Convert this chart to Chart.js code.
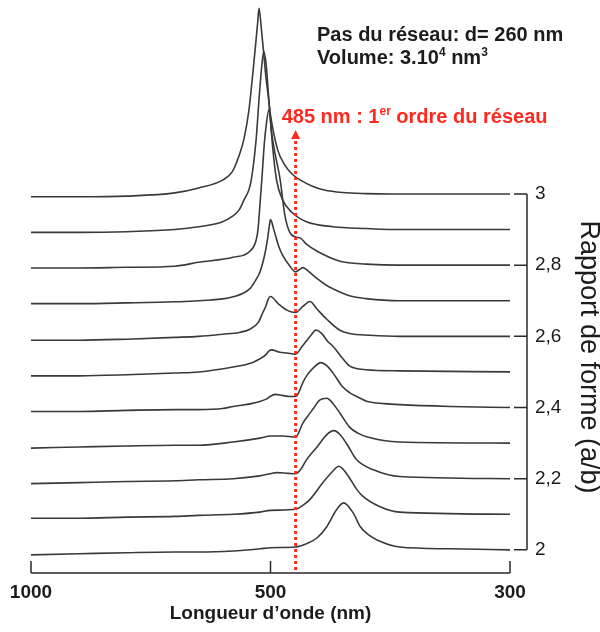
<!DOCTYPE html>
<html>
<head>
<meta charset="utf-8">
<script src="https://cdn.jsdelivr.net/npm/chart.js@4.4.0/dist/chart.umd.min.js"></script>
<style>
  html, body { margin: 0; padding: 0; background: #fff; }
  canvas { display: block; }
</style>
</head>
<body>
<canvas id="spectraChart" width="600" height="632"></canvas>
<script>
// aspect ratios (a/b), one spectrum each, stacked on the right axis
const ratios = [2.0, 2.1, 2.2, 2.3, 2.4, 2.5, 2.6, 2.7, 2.8, 2.9, 3.0];

// x axis is drawn in three tick sections: 1000 -> 500 -> 300 nm
const xTickNm = [1000, 500, 300];
const xTickLabels = ["1000", "500", "300"];
const yTickValues = [2, 2.2, 2.4, 2.6, 2.8, 3];

// dotted marker, where it sits on the figure
const orderNm = 479;
const orderLabel = "485 nm : 1";

// [wavelength nm, extinction above the curve's own ratio]
const s20 = [[1000,-0.014],[900,-0.011],[800,-0.008],[700,-0.006],[650,-0.006],[578,-0.003],[522,0.003],[500,0.006],[479,0.008],[470,0.017],[461,0.034],[453,0.065],[445,0.112],[439,0.132],[431,0.104],[425,0.065],[418,0.042],[411,0.028],[392,0.008],[350,0.003],[300,0]];
const s21 = [[1000,-0.011],[900,-0.011],[800,-0.008],[700,-0.006],[650,-0.003],[578,0],[522,0.006],[500,0.011],[479,0.014],[473,0.025],[467,0.042],[456,0.09],[448,0.121],[443,0.135],[436,0.112],[428,0.07],[423,0.051],[409,0.022],[392,0.006],[300,0]];
const s22 = [[1000,-0.014],[900,-0.011],[800,-0.008],[700,-0.006],[650,-0.003],[578,0],[522,0.008],[500,0.014],[495,0.017],[485,0.015],[479,0.014],[474,0.03],[470,0.053],[461,0.09],[453,0.124],[447,0.135],[442,0.124],[436,0.096],[428,0.053],[414,0.025],[392,0.006],[300,0]];
const s23 = [[1000,-0.014],[900,-0.011],[800,-0.008],[700,-0.006],[650,-0.006],[578,0.003],[522,0.014],[500,0.02],[490,0.02],[479,0.017],[473,0.056],[468,0.08],[464,0.098],[459,0.121],[453,0.126],[448,0.112],[442,0.084],[434,0.045],[427,0.028],[419,0.017],[392,0.003],[300,0]];
const s24 = [[1000,-0.011],[900,-0.011],[800,-0.008],[700,-0.006],[650,-0.006],[600,-0.003],[578,0.003],[540,0.011],[522,0.017],[507,0.025],[501,0.031],[496,0.037],[490,0.034],[484,0.031],[479,0.031],[476,0.045],[473,0.07],[469,0.093],[464,0.112],[458,0.126],[453,0.118],[448,0.098],[440,0.059],[434,0.042],[428,0.031],[419,0.017],[405,0.011],[392,0.008],[350,0.003],[300,0]];
const s25 = [[1000,-0.011],[900,-0.011],[800,-0.008],[700,-0.003],[650,0],[578,0.014],[540,0.025],[522,0.037],[510,0.048],[503,0.059],[499,0.062],[493,0.056],[486,0.053],[479,0.05],[474,0.07],[470,0.087],[466,0.104],[462,0.118],[457,0.107],[452,0.085],[448,0.073],[440,0.039],[434,0.017],[420,0.006],[392,0.003],[300,0]];
const s26 = [[1000,-0.011],[900,-0.011],[800,-0.008],[700,-0.003],[650,0],[600,0.006],[565,0.011],[543,0.02],[525,0.04],[516,0.067],[510,0.084],[505,0.104],[500,0.112],[493,0.09],[486,0.073],[479,0.067],[473,0.084],[467,0.098],[461,0.076],[453,0.048],[442,0.017],[434,0.008],[417,0.003],[392,0],[300,0]];
const s27 = [[1000,-0.008],[900,-0.008],[800,-0.006],[700,-0.003],[650,0],[578,0.011],[543,0.034],[530,0.06],[522,0.081],[512,0.13],[507,0.166],[503,0.205],[500,0.228],[497,0.197],[493,0.152],[490,0.129],[484,0.098],[479,0.081],[476,0.087],[473,0.093],[468,0.082],[461,0.062],[454,0.045],[448,0.034],[434,0.014],[420,0.006],[392,0],[300,0]];
const s28 = [[1000,-0.008],[900,-0.008],[800,-0.006],[700,-0.003],[650,0.008],[578,0.022],[543,0.039],[530,0.07],[526,0.101],[522,0.17],[518,0.242],[513,0.34],[509,0.393],[503,0.438],[499,0.37],[496,0.31],[492,0.242],[488,0.14],[484,0.093],[479,0.079],[475,0.076],[470,0.059],[461,0.039],[442,0.011],[420,0.003],[392,0],[300,0]];
const s29 = [[1000,-0.008],[900,-0.008],[800,-0.006],[700,0],[650,0.008],[600,0.022],[580,0.037],[565,0.056],[555,0.084],[545,0.112],[540,0.14],[530,0.253],[524,0.365],[518,0.463],[514,0.5],[509,0.463],[505,0.393],[501,0.323],[498,0.225],[495,0.14],[490,0.084],[482,0.048],[470,0.022],[448,0.008],[420,0.003],[390,0],[300,0]];
const s30 = [[1000,-0.008],[900,-0.008],[800,-0.006],[700,0.003],[650,0.017],[600,0.039],[580,0.062],[565,0.11],[555,0.157],[545,0.236],[535,0.365],[530,0.435],[527,0.478],[524,0.522],[521,0.492],[518,0.449],[514,0.393],[510,0.334],[505,0.278],[500,0.222],[494,0.124],[488,0.081],[482,0.056],[475,0.039],[465,0.022],[455,0.011],[440,0.004],[420,0.001],[400,0],[350,0],[300,0]];

const spectra = [s20, s21, s22, s23, s24, s25, s26, s27, s28, s29, s30];

const FONT = "'Liberation Sans', Arial, Helvetica, sans-serif";
const INK = "#1c1c1c";
const RED = "#ff2a1f";

// wavelength -> position on the sectioned x axis (0, 1, 2 at the ticks)
function toAxis(nm) {
  for (let i = 0; i < xTickNm.length - 1; i++) {
    const a = xTickNm[i];
    const b = xTickNm[i + 1];
    if (nm >= b || i === xTickNm.length - 2) {
      return i + (a - nm) / (a - b);
    }
  }
}

function formatRatio(v) {
  return String(Number(v.toFixed(1))).replace(".", ",");
}

// text with superscript pieces: parts = [[text, isSup], ...]
function drawRich(ctx, parts, x, y, size) {
  let cx = x;
  parts.forEach(([text, sup]) => {
    const fs = sup ? Math.round(size * 0.62) : size;
    ctx.font = "bold " + fs + "px " + FONT;
    ctx.fillText(text, cx, sup ? y - size * 0.38 : y);
    cx += ctx.measureText(text).width;
  });
}

const decorPlugin = {
  id: "decor",
  afterDatasetsDraw(chart) {
    const ctx = chart.ctx;
    const xs = chart.scales.x;
    const ys = chart.scales.y;
    const area = chart.chartArea;

    ctx.save();
    ctx.strokeStyle = "#2a2a2a";
    ctx.lineWidth = 1.5;

    // x bracket
    const xb = area.bottom;
    ctx.beginPath();
    xTickNm.forEach((nm) => {
      const px = xs.getPixelForValue(toAxis(nm));
      ctx.moveTo(px, xb - 12);
      ctx.lineTo(px, xb);
    });
    ctx.moveTo(xs.getPixelForValue(toAxis(xTickNm[0])), xb);
    ctx.lineTo(xs.getPixelForValue(toAxis(xTickNm[xTickNm.length - 1])), xb);
    ctx.stroke();

    // y bracket
    const yx = area.right;
    ctx.beginPath();
    ctx.moveTo(yx, ys.getPixelForValue(yTickValues[0]));
    ctx.lineTo(yx, ys.getPixelForValue(yTickValues[yTickValues.length - 1]));
    yTickValues.forEach((v) => {
      const py = ys.getPixelForValue(v);
      ctx.moveTo(yx - 13, py);
      ctx.lineTo(yx, py);
    });
    ctx.stroke();

    // dotted first-order marker with arrow head
    const mx = xs.getPixelForValue(toAxis(orderNm));
    const tip = ys.getPixelForValue(3.18);
    ctx.strokeStyle = RED;
    ctx.fillStyle = RED;
    ctx.lineWidth = 3;
    ctx.setLineDash([3, 3]);
    ctx.beginPath();
    ctx.moveTo(mx, tip + 11);
    ctx.lineTo(mx, area.bottom);
    ctx.stroke();
    ctx.setLineDash([]);
    ctx.beginPath();
    ctx.moveTo(mx, tip);
    ctx.lineTo(mx + 4.5, tip + 9);
    ctx.lineTo(mx - 4.5, tip + 9);
    ctx.closePath();
    ctx.fill();

    ctx.textAlign = "left";
    ctx.textBaseline = "alphabetic";
    drawRich(ctx, [[orderLabel, false], ["er", true], [" ordre du réseau", false]], mx - 14, tip - 7, 20);

    ctx.fillStyle = INK;
    drawRich(ctx, [["Pas du réseau: d= 260 nm", false]], 317, 41, 20);
    drawRich(ctx, [["Volume: 3.10", false], ["4", true], [" nm", false], ["3", true]], 317, 64, 20);

    // axis titles
    ctx.textAlign = "center";
    ctx.textBaseline = "middle";
    ctx.font = "bold 19px " + FONT;
    ctx.fillText("Longueur d\u2019onde (nm)", xs.getPixelForValue(toAxis(500)), area.bottom + 41);

    ctx.save();
    ctx.translate(588, ys.getPixelForValue(2.542));
    ctx.rotate(Math.PI / 2);
    ctx.font = "27px " + FONT;
    ctx.fillText("Rapport de forme (a/b)", 0, 0);
    ctx.restore();

    ctx.restore();
  }
};

function buildChart() {
  const datasets = spectra.map((s, i) => ({
    label: formatRatio(ratios[i]),
    data: s.map((p) => ({ x: toAxis(p[0]), y: ratios[i] + p[1] })),
    borderColor: "#3a3a3a",
    borderWidth: 1.6,
    pointRadius: 0,
    fill: false,
    cubicInterpolationMode: "monotone"
  }));

  const ctx = document.getElementById("spectraChart").getContext("2d");
  window.spectraChart = new Chart(ctx, {
    type: "line",
    data: { datasets: datasets },
    options: {
      responsive: false,
      animation: false,
      devicePixelRatio: 1,
      layout: { padding: { left: 31, top: 5, right: 0, bottom: 0 } },
      plugins: { legend: { display: false }, tooltip: { enabled: false } },
      scales: {
        x: {
          type: "linear",
          position: "bottom",
          min: 0,
          max: 2.071,
          grid: { display: false, drawTicks: false },
          border: { display: false },
          afterBuildTicks: (scale) => {
            scale.ticks = xTickNm.map((nm) => ({ value: toAxis(nm) }));
          },
          afterFit: (scale) => {
            scale.height = 59;
            scale.paddingLeft = 0;
            scale.paddingRight = 0;
          },
          ticks: {
            autoSkip: false,
            maxRotation: 0,
            padding: 8,
            color: INK,
            font: { family: FONT, size: 19, weight: "bold" },
            callback: (value) => {
              const i = xTickNm.findIndex((nm) => Math.abs(toAxis(nm) - value) < 1e-6);
              return i >= 0 ? xTickLabels[i] : "";
            }
          }
        },
        y: {
          type: "linear",
          position: "right",
          min: 1.935,
          max: 3.531,
          grid: { display: false, drawTicks: false },
          border: { display: false },
          afterBuildTicks: (scale) => {
            scale.ticks = yTickValues.map((v) => ({ value: v }));
          },
          afterFit: (scale) => {
            scale.width = 73;
            scale.paddingTop = 0;
            scale.paddingBottom = 0;
          },
          ticks: {
            padding: 8,
            color: INK,
            font: { family: FONT, size: 19 },
            callback: (value) => formatRatio(value)
          }
        }
      }
    },
    plugins: [decorPlugin]
  });
}

buildChart();
</script>
</body>
</html>
